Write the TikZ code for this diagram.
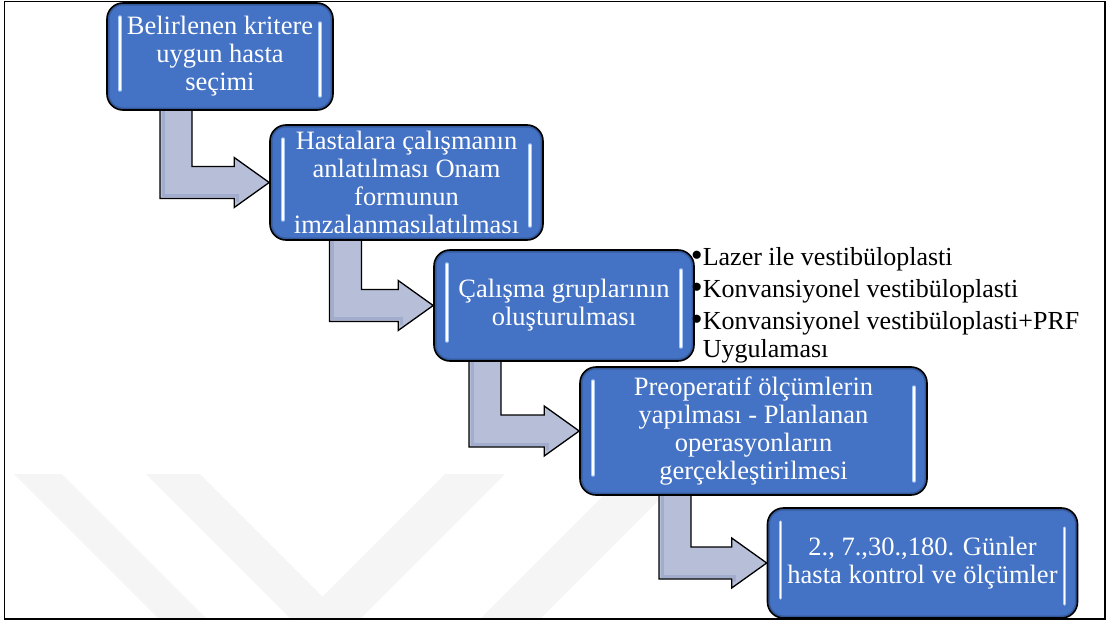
\documentclass[tikz,border=0pt]{standalone}
\usepackage{fontspec}
\setmainfont{Liberation Serif}
\usetikzlibrary{positioning,backgrounds,calc}

\definecolor{boxblue}{RGB}{68,114,196}
\definecolor{arrowgray}{RGB}{182,190,216}
\definecolor{arrowedge}{RGB}{150,160,198}
\definecolor{glowblue}{RGB}{165,200,250}
\definecolor{wmark}{RGB}{245,245,245}

\tikzstyle{stepbox} = [rounded corners=16pt, draw=black, line width=1.6pt, fill=boxblue,
	text=white, align=center, inner sep=0pt, font=\fontsize{26.5}{28}\selectfont,
	path picture={
		\draw[boxblue!55!black, line width=5pt, opacity=.45, rounded corners=16pt]
			(path picture bounding box.north west) rectangle (path picture bounding box.south east);
		\draw[glowblue, line width=3.5pt, line cap=round]
			([xshift=13pt,yshift=-14pt]path picture bounding box.north west) -- ([xshift=13pt,yshift=20pt]path picture bounding box.south west)
			([xshift=-13pt,yshift=-20pt]path picture bounding box.north east) -- ([xshift=-13pt,yshift=14pt]path picture bounding box.south east);
		\draw[white, line width=1.2pt, line cap=round]
			([xshift=13pt,yshift=-14pt]path picture bounding box.north west) -- ([xshift=13pt,yshift=20pt]path picture bounding box.south west)
			([xshift=-13pt,yshift=-20pt]path picture bounding box.north east) -- ([xshift=-13pt,yshift=14pt]path picture bounding box.south east);
	}]
\tikzstyle{listtext} = [align=left, inner sep=0pt, outer sep=0pt, font=\fontsize{26}{28}\selectfont]
\tikzstyle{arrowfill} = [fill=arrowgray, draw=black, line width=1.3pt, line join=miter]
\tikzstyle{watermark} = [fill=wmark]

% bent arrow: from box #1 down, then right into box #2; shaft centred at x = #3
\newcommand{\bentarrow}[3]{%
	\path[arrowfill] let \p1=(#1.south), \p2=(#2.west) in
		(#3pt-16pt,\y1+4pt) -- (#3pt+16pt,\y1+4pt) -- (#3pt+16pt,\y2+16pt)
		-- (\x2-35pt,\y2+16pt) -- (\x2-35pt,\y2+25pt) -- (\x2,\y2)
		-- (\x2-35pt,\y2-25pt) -- (\x2-35pt,\y2-16pt) -- (#3pt-16pt,\y2-16pt) -- cycle;
	% inner bevel
	\path[draw=arrowedge, line width=3pt, opacity=.6, line join=miter] let \p1=(#1.south), \p2=(#2.west) in
		(#3pt-13pt,\y1) -- (#3pt-13pt,\y2-13pt) -- (\x2-32pt,\y2-13pt) -- (\x2-32pt,\y2-19pt);}
\newcommand{\bul}{\llap{\raisebox{-1pt}{\fontsize{34}{34}\selectfont\textbullet}\hspace{0pt}}}

\begin{document}
\begin{tikzpicture}[x=1pt,y=-1pt]
	\useasboundingbox (0,0) rectangle (1112,624);

	\node[stepbox, minimum width=226pt, minimum height=107pt] (n1) at (220,56.5) {Belirlenen kritere\\uygun hasta\\seçimi};
	\node[stepbox, minimum width=273pt, minimum height=115pt] (n2) at (406.5,182.5) {Hastalara çalışmanın\\anlatılması Onam\\formunun\\imzalanmasılatılması};
	\node[stepbox, minimum width=260pt, minimum height=111pt] (n3) at (564,305.5) {Çalışma gruplarının\\oluşturulması};
	\node[stepbox, minimum width=347pt, minimum height=128pt] (n4) at (753.5,431) {Preoperatif ölçümlerin\\yapılması - Planlanan\\operasyonların\\gerçekleştirilmesi};
	\node[stepbox, minimum width=310pt, minimum height=110pt] (n5) at (922.5,563) {2., 7.,30.,180. Günler\\hasta kontrol ve ölçümler};

	\node[listtext, anchor=north west] (n3list) at ([xshift=8pt,yshift=2pt]n3.north east)
		{\bul Lazer ile vestibüloplasti\\[4pt]\bul Konvansiyonel vestibüloplasti\\[4pt]\bul Konvansiyonel vestibüloplasti+PRF\\Uygulaması};

	\begin{scope}[on background layer]
		% faint logo in the back
		\fill[watermark] (14,474) -- (62,474) -- (207,619) -- (159,619) -- cycle;
		\fill[watermark] (146,474) -- (200,474) -- (345,619) -- (291,619) -- cycle;
		\fill[watermark] (300,619) -- (360,619) -- (505,474) -- (445,474) -- cycle;
		\fill[watermark] (480,619) -- (540,619) -- (700,459) -- (640,459) -- cycle;
		\bentarrow{n1}{n2}{176}
		\bentarrow{n2}{n3}{345.5}
		\bentarrow{n3}{n4}{485}
		\bentarrow{n4}{n5}{675}
	\end{scope}

	\draw[line width=1.5pt] (4.5,1.5) rectangle (1105,619);
\end{tikzpicture}
\end{document}
